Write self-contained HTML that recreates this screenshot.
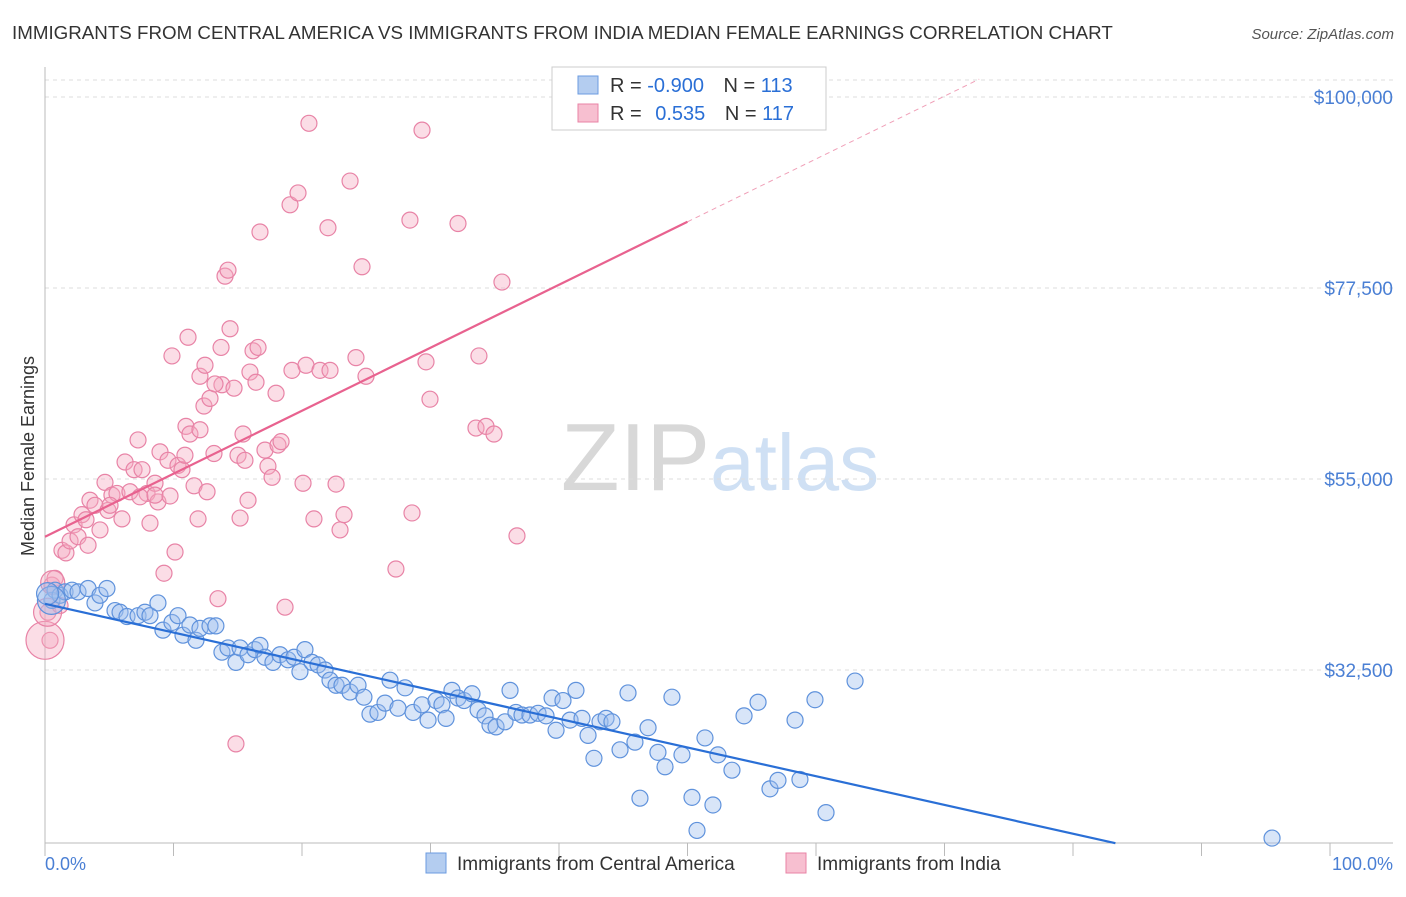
<!DOCTYPE html>
<html><head><meta charset="utf-8"><style>
body{margin:0;background:#fff;font-family:"Liberation Sans",sans-serif;}
svg text{font-family:"Liberation Sans",sans-serif;}
</style></head><body>
<svg id="chart" width="1406" height="892" viewBox="0 0 1406 892" xmlns="http://www.w3.org/2000/svg">
<text x="12" y="39" font-size="18.75" fill="#333">IMMIGRANTS FROM CENTRAL AMERICA VS IMMIGRANTS FROM INDIA MEDIAN FEMALE EARNINGS CORRELATION CHART</text>
<text x="1394" y="39" font-size="15" fill="#555" text-anchor="end" font-style="italic">Source: ZipAtlas.com</text>
<text x="720" y="490" font-size="96" fill="#ddd" text-anchor="middle" font-family="Liberation Serif"><tspan fill="#d8d8d8">ZIP</tspan><tspan fill="#cfe0f4" font-family="Liberation Sans" font-size="80">atlas</tspan></text>
<g id="grid"></g><g id="axes"></g><g id="pts"></g><g id="lines"></g>
<text transform="translate(34,456) rotate(-90)" font-size="18" fill="#333" text-anchor="middle">Median Female Earnings</text>
<text x="45" y="870" font-size="18" fill="#4a7fd4">0.0%</text>
<text x="1393" y="870" font-size="18" fill="#4a7fd4" text-anchor="end">100.0%</text>
<g>
<rect x="552" y="67" width="274" height="63" fill="#fff" stroke="#ccc"/>
<rect x="578" y="76" width="20" height="18" fill="#b4cdf0" stroke="#6b9be0"/>
<rect x="578" y="104" width="20" height="18" fill="#f7bfd0" stroke="#e883a6"/>
<text x="610" y="92" font-size="20" fill="#333">R = <tspan fill="#2a6fd6">-0.900</tspan>  <tspan dx="14">N = </tspan><tspan fill="#2a6fd6">113</tspan></text>
<text x="610" y="120" font-size="20" fill="#333">R = <tspan dx="8" fill="#2a6fd6">0.535</tspan>  <tspan dx="14">N = </tspan><tspan fill="#2a6fd6">117</tspan></text>
</g>
<g>
<rect x="426" y="853" width="20" height="20" fill="#b4cdf0" stroke="#6b9be0"/>
<text x="457" y="870" font-size="19" fill="#333">Immigrants from Central America</text>
<rect x="786" y="853" width="20" height="20" fill="#f7bfd0" stroke="#e883a6"/>
<text x="817" y="870" font-size="19" fill="#333">Immigrants from India</text>
</g>
</svg>
<script>
const yTicks=[32.5,55,77.5,100];
const yTickLabels=["$32,500","$55,000","$77,500","$100,000"];
const blueX=[0.54,0.78,1.17,1.56,2.1,2.57,3.35,3.89,4.28,4.82,5.45,5.84,6.38,7.24,7.78,8.17,8.79,9.18,9.88,10.35,10.74,11.28,11.75,12.06,12.84,13.3,13.77,14.24,14.86,15.18,15.8,16.34,16.73,17.12,17.74,18.29,18.91,19.38,19.84,20.23,20.78,21.25,21.79,22.18,22.65,23.11,23.74,24.36,24.82,25.29,25.91,26.46,26.85,27.47,28.02,28.64,29.34,29.81,30.43,30.89,31.21,31.67,32.14,32.61,33.23,33.7,34.24,34.63,35.1,35.8,36.19,36.65,37.12,37.74,38.37,38.99,39.46,39.77,40.31,40.86,41.32,41.79,42.26,42.72,43.19,43.66,44.12,44.75,45.37,45.91,46.3,46.93,47.7,48.25,48.79,49.57,50.35,50.74,51.36,51.98,52.37,53.46,54.4,55.49,56.42,57.04,58.37,58.75,59.92,60.78,63.04,95.49];
const blueY=[40.7,41.9,41.3,41.7,41.9,41.7,42.1,40.4,41.3,42.1,39.5,39.3,38.8,38.9,39.3,38.9,40.4,37.2,38.1,38.9,36.6,37.8,36.0,37.4,37.7,37.7,34.6,35.1,33.4,35.1,34.3,34.9,35.4,34.0,33.4,34.3,33.7,34.0,32.3,34.9,33.4,33.1,32.5,31.3,30.7,30.7,29.9,30.7,29.3,27.3,27.5,28.6,31.3,28.0,30.4,27.5,28.4,26.6,28.9,28.4,26.8,30.1,29.2,28.9,29.7,27.8,27.1,26.0,25.8,26.4,30.1,27.5,27.2,27.2,27.4,27.1,29.2,25.4,28.9,26.6,30.1,26.8,24.8,22.1,26.4,26.8,26.4,23.1,29.8,24.0,17.4,25.7,22.8,21.1,29.3,22.5,17.5,13.6,24.5,16.6,22.5,20.7,27.1,28.7,18.5,19.5,26.6,19.6,29.0,15.7,31.2,12.7];
const pinkX=[0.23,0.39,0.54,0.78,1.17,1.32,1.63,1.95,2.26,2.57,2.88,3.19,3.5,3.89,4.28,4.67,4.9,5.21,5.6,5.99,6.23,6.61,6.93,7.24,7.55,7.94,8.17,8.56,8.79,8.95,9.26,9.57,9.88,10.12,10.35,10.66,10.97,11.13,11.28,11.6,11.91,12.06,12.37,12.61,12.84,13.15,13.46,13.7,13.77,14.01,14.24,14.4,14.71,14.86,15.02,15.18,15.41,15.8,15.95,16.19,16.42,16.58,16.73,17.12,17.35,17.67,17.98,18.13,18.37,18.68,19.07,19.22,19.69,20.08,20.31,20.54,20.93,21.4,22.02,22.18,22.65,22.96,23.27,23.74,24.2,24.67,24.98,27.31,28.4,28.56,29.34,29.65,29.96,32.14,33.54,33.77,34.32,34.94,35.56,36.73,3.35,5.06,7.39,8.56,10.89,12.06,15.56,9.73,13.23,12.45];
const pinkY=[39.3,36.0,42.5,43.3,40.1,46.6,46.3,47.7,49.6,48.2,50.8,50.2,52.5,51.9,49.0,54.6,51.3,53.1,53.3,50.3,57.0,53.5,56.1,59.6,56.1,53.3,49.8,54.5,52.3,58.2,43.9,57.2,69.5,46.4,56.6,56.1,61.2,71.7,60.3,54.2,50.3,67.1,63.6,53.5,64.5,58.0,40.9,70.5,66.1,78.9,79.6,72.7,65.7,23.8,57.8,50.4,60.3,52.5,67.6,70.1,66.4,70.5,84.1,58.4,56.5,55.2,65.1,59.0,59.4,39.9,87.3,67.8,88.7,54.5,68.4,96.9,50.3,67.8,84.6,67.8,54.4,49.0,50.8,90.1,69.3,80.0,67.1,44.4,85.5,51.0,96.1,68.8,64.4,85.1,61.0,69.5,61.2,60.3,78.2,48.3,47.2,51.9,52.9,53.1,57.8,60.8,57.2,53.0,66.2,68.4];
const bigBlueX=[0.5,0.2];const bigBlueY=[40.7,41.5];const bigBlueR=[14,11];
const bigPinkX=[0.0,0.2,0.6];const bigPinkY=[36.0,39.3,42.8];const bigPinkR=[19,14,12];
const blueLine=[[0,40.3],[83.3,12.1]];
const pinkLine=[[0,48.2],[50,85.3]];
const pinkDash=[[50,85.3],[72.7,102.1]];
const X=v=>45+v*12.85;
const Y=v=>97+(100-v)/0.1178;
const NS="http://www.w3.org/2000/svg";
function mk(p,t,a){const e=document.createElementNS(NS,t);for(const k in a)e.setAttribute(k,a[k]);p.appendChild(e);return e;}
const grid=document.getElementById('grid'),axes=document.getElementById('axes'),pts=document.getElementById('pts'),lines=document.getElementById('lines');
let g=mk(grid,'line',{x1:45,x2:1393,y1:80,y2:80,stroke:'#ddd','stroke-dasharray':'4,4'});

yTicks.forEach((t,i)=>{
 const l=mk(grid,'line',{x1:45,x2:1393,y1:Y(t),y2:Y(t),stroke:'#ddd','stroke-dasharray':'4,4'});
 
 
 const tx=mk(grid,'text',{x:1393,y:Y(t)+7,'font-size':19,fill:'#4a7fd4','text-anchor':'end'});
 tx.textContent=yTickLabels[i];
 
 
});
let a=mk(axes,'line',{x1:45,x2:1393,y1:843,y2:843,stroke:'#bbb'});

a=mk(axes,'line',{x1:45,x2:45,y1:67,y2:843,stroke:'#bbb'});

for(let i=0;i<=10;i++){const t=mk(axes,'line',{x1:X(i*10),x2:X(i*10),y1:843,y2:856,stroke:'#bbb'});
 
 }
function dot(x,y,r,f,s,n){const c=mk(pts,'circle',{cx:X(x),cy:Y(y),r:r,fill:f,'fill-opacity':0.4,stroke:s,'stroke-width':1.2});
 
 }
pinkX.forEach((x,i)=>dot(x,pinkY[i],8,'#f4a9c1','#e883a6','india-point'));
bigPinkX.forEach((x,i)=>dot(x,bigPinkY[i],bigPinkR[i],'#f4a9c1','#e883a6','india-point'));
blueX.forEach((x,i)=>dot(x,blueY[i],8,'#9dbfee','#5f92dc','central-america-point'));
bigBlueX.forEach((x,i)=>dot(x,bigBlueY[i],bigBlueR[i],'#9dbfee','#5f92dc','central-america-point'));
let L=mk(lines,'line',{x1:X(blueLine[0][0]),y1:Y(blueLine[0][1]),x2:X(blueLine[1][0]),y2:Y(blueLine[1][1]),stroke:'#2a6fd6','stroke-width':2.2});

L=mk(lines,'line',{x1:X(pinkLine[0][0]),y1:Y(pinkLine[0][1]),x2:X(pinkLine[1][0]),y2:Y(pinkLine[1][1]),stroke:'#e8628f','stroke-width':2.2});

L=mk(lines,'line',{x1:X(pinkDash[0][0]),y1:Y(pinkDash[0][1]),x2:X(pinkDash[1][0]),y2:Y(pinkDash[1][1]),stroke:'#f0a0b8','stroke-width':1,'stroke-dasharray':'5,4'});

</script>
</body></html>
